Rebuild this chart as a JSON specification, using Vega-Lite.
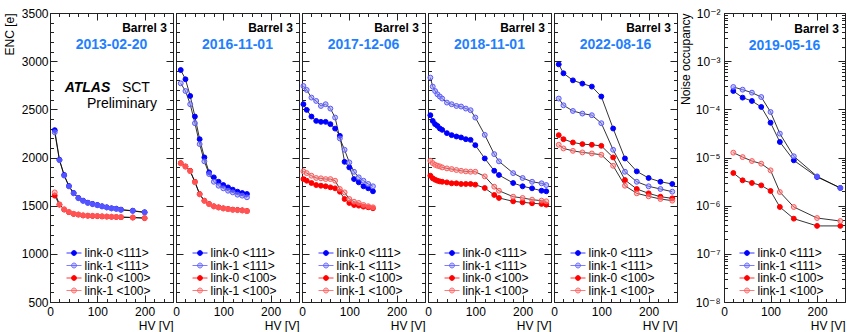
{
"$schema": "https://vega.github.io/schema/vega-lite/v6.json",
"background": "white",
"padding": {"left": 3, "top": 7, "right": 0, "bottom": 0},
"bounds": "flush",
"spacing": 3,
"datasets": {
"p2013": [
{"series":"link-0 <111>","HV":10,"value":2284},{"series":"link-0 <111>","HV":20,"value":1976},{"series":"link-0 <111>","HV":30,"value":1818},{"series":"link-0 <111>","HV":40,"value":1704},{"series":"link-0 <111>","HV":50,"value":1631},{"series":"link-0 <111>","HV":60,"value":1580},{"series":"link-0 <111>","HV":70,"value":1552},{"series":"link-0 <111>","HV":80,"value":1531},{"series":"link-0 <111>","HV":90,"value":1518},{"series":"link-0 <111>","HV":100,"value":1507},{"series":"link-0 <111>","HV":110,"value":1494},{"series":"link-0 <111>","HV":120,"value":1483},{"series":"link-0 <111>","HV":130,"value":1473},{"series":"link-0 <111>","HV":140,"value":1469},{"series":"link-0 <111>","HV":150,"value":1459},{"series":"link-0 <111>","HV":175,"value":1448},{"series":"link-0 <111>","HV":200,"value":1432},
{"series":"link-1 <111>","HV":10,"value":2262},{"series":"link-1 <111>","HV":20,"value":1972},{"series":"link-1 <111>","HV":30,"value":1812},{"series":"link-1 <111>","HV":40,"value":1700},{"series":"link-1 <111>","HV":50,"value":1628},{"series":"link-1 <111>","HV":60,"value":1577},{"series":"link-1 <111>","HV":70,"value":1549},{"series":"link-1 <111>","HV":80,"value":1528},{"series":"link-1 <111>","HV":90,"value":1515},{"series":"link-1 <111>","HV":100,"value":1504},{"series":"link-1 <111>","HV":110,"value":1491},{"series":"link-1 <111>","HV":120,"value":1481},{"series":"link-1 <111>","HV":130,"value":1471},{"series":"link-1 <111>","HV":140,"value":1466},{"series":"link-1 <111>","HV":150,"value":1456},{"series":"link-1 <111>","HV":175,"value":1445},{"series":"link-1 <111>","HV":200,"value":1429},
{"series":"link-0 <100>","HV":10,"value":1604},{"series":"link-0 <100>","HV":20,"value":1510},{"series":"link-0 <100>","HV":30,"value":1459},{"series":"link-0 <100>","HV":40,"value":1432},{"series":"link-0 <100>","HV":50,"value":1414},{"series":"link-0 <100>","HV":60,"value":1407},{"series":"link-0 <100>","HV":70,"value":1398},{"series":"link-0 <100>","HV":80,"value":1395},{"series":"link-0 <100>","HV":90,"value":1393},{"series":"link-0 <100>","HV":100,"value":1391},{"series":"link-0 <100>","HV":110,"value":1388},{"series":"link-0 <100>","HV":120,"value":1386},{"series":"link-0 <100>","HV":130,"value":1384},{"series":"link-0 <100>","HV":140,"value":1382},{"series":"link-0 <100>","HV":150,"value":1380},{"series":"link-0 <100>","HV":175,"value":1376},{"series":"link-0 <100>","HV":200,"value":1370},
{"series":"link-1 <100>","HV":10,"value":1638},{"series":"link-1 <100>","HV":20,"value":1514},{"series":"link-1 <100>","HV":30,"value":1463},{"series":"link-1 <100>","HV":40,"value":1435},{"series":"link-1 <100>","HV":50,"value":1416},{"series":"link-1 <100>","HV":60,"value":1409},{"series":"link-1 <100>","HV":70,"value":1400},{"series":"link-1 <100>","HV":80,"value":1397},{"series":"link-1 <100>","HV":90,"value":1395},{"series":"link-1 <100>","HV":100,"value":1393},{"series":"link-1 <100>","HV":110,"value":1390},{"series":"link-1 <100>","HV":120,"value":1388},{"series":"link-1 <100>","HV":130,"value":1386},{"series":"link-1 <100>","HV":140,"value":1384},{"series":"link-1 <100>","HV":150,"value":1382},{"series":"link-1 <100>","HV":175,"value":1378},{"series":"link-1 <100>","HV":200,"value":1372}
],
"p2016": [
{"series":"link-0 <111>","HV":10,"value":2908},{"series":"link-0 <111>","HV":20,"value":2812},{"series":"link-0 <111>","HV":30,"value":2639},{"series":"link-0 <111>","HV":40,"value":2425},{"series":"link-0 <111>","HV":50,"value":2190},{"series":"link-0 <111>","HV":60,"value":2001},{"series":"link-0 <111>","HV":70,"value":1846},{"series":"link-0 <111>","HV":80,"value":1794},{"series":"link-0 <111>","HV":90,"value":1748},{"series":"link-0 <111>","HV":100,"value":1714},{"series":"link-0 <111>","HV":110,"value":1690},{"series":"link-0 <111>","HV":120,"value":1666},{"series":"link-0 <111>","HV":130,"value":1645},{"series":"link-0 <111>","HV":140,"value":1631},{"series":"link-0 <111>","HV":150,"value":1621},
{"series":"link-1 <111>","HV":10,"value":2770},{"series":"link-1 <111>","HV":20,"value":2690},{"series":"link-1 <111>","HV":30,"value":2553},{"series":"link-1 <111>","HV":40,"value":2356},{"series":"link-1 <111>","HV":50,"value":2139},{"series":"link-1 <111>","HV":60,"value":1960},{"series":"link-1 <111>","HV":70,"value":1828},{"series":"link-1 <111>","HV":80,"value":1748},{"series":"link-1 <111>","HV":90,"value":1707},{"series":"link-1 <111>","HV":100,"value":1680},{"series":"link-1 <111>","HV":110,"value":1655},{"series":"link-1 <111>","HV":120,"value":1638},{"series":"link-1 <111>","HV":130,"value":1614},{"series":"link-1 <111>","HV":140,"value":1604},{"series":"link-1 <111>","HV":150,"value":1587},
{"series":"link-0 <100>","HV":10,"value":1942},{"series":"link-0 <100>","HV":20,"value":1908},{"series":"link-0 <100>","HV":30,"value":1862},{"series":"link-0 <100>","HV":40,"value":1748},{"series":"link-0 <100>","HV":50,"value":1621},{"series":"link-0 <100>","HV":60,"value":1552},{"series":"link-0 <100>","HV":70,"value":1518},{"series":"link-0 <100>","HV":80,"value":1494},{"series":"link-0 <100>","HV":90,"value":1483},{"series":"link-0 <100>","HV":100,"value":1473},{"series":"link-0 <100>","HV":110,"value":1466},{"series":"link-0 <100>","HV":120,"value":1459},{"series":"link-0 <100>","HV":130,"value":1456},{"series":"link-0 <100>","HV":140,"value":1452},{"series":"link-0 <100>","HV":150,"value":1445},
{"series":"link-1 <100>","HV":10,"value":1938},{"series":"link-1 <100>","HV":20,"value":1904},{"series":"link-1 <100>","HV":30,"value":1857},{"series":"link-1 <100>","HV":40,"value":1743},{"series":"link-1 <100>","HV":50,"value":1617},{"series":"link-1 <100>","HV":60,"value":1549},{"series":"link-1 <100>","HV":70,"value":1515},{"series":"link-1 <100>","HV":80,"value":1491},{"series":"link-1 <100>","HV":90,"value":1480},{"series":"link-1 <100>","HV":100,"value":1470},{"series":"link-1 <100>","HV":110,"value":1463},{"series":"link-1 <100>","HV":120,"value":1456},{"series":"link-1 <100>","HV":130,"value":1453},{"series":"link-1 <100>","HV":140,"value":1449},{"series":"link-1 <100>","HV":150,"value":1442}
],
"p2017": [
{"series":"link-0 <111>","HV":3,"value":2553},{"series":"link-0 <111>","HV":10,"value":2494},{"series":"link-0 <111>","HV":20,"value":2425},{"series":"link-0 <111>","HV":30,"value":2380},{"series":"link-0 <111>","HV":40,"value":2370},{"series":"link-0 <111>","HV":50,"value":2370},{"series":"link-0 <111>","HV":60,"value":2346},{"series":"link-0 <111>","HV":70,"value":2300},{"series":"link-0 <111>","HV":80,"value":2225},{"series":"link-0 <111>","HV":90,"value":1955},{"series":"link-0 <111>","HV":100,"value":1897},{"series":"link-0 <111>","HV":110,"value":1776},{"series":"link-0 <111>","HV":120,"value":1742},{"series":"link-0 <111>","HV":130,"value":1701},{"series":"link-0 <111>","HV":140,"value":1680},{"series":"link-0 <111>","HV":150,"value":1649},
{"series":"link-1 <111>","HV":3,"value":2742},{"series":"link-1 <111>","HV":10,"value":2701},{"series":"link-1 <111>","HV":20,"value":2622},{"series":"link-1 <111>","HV":30,"value":2587},{"series":"link-1 <111>","HV":40,"value":2535},{"series":"link-1 <111>","HV":50,"value":2553},{"series":"link-1 <111>","HV":60,"value":2508},{"series":"link-1 <111>","HV":70,"value":2415},{"series":"link-1 <111>","HV":80,"value":2198},{"series":"link-1 <111>","HV":90,"value":2080},{"series":"link-1 <111>","HV":100,"value":1949},{"series":"link-1 <111>","HV":110,"value":1852},{"series":"link-1 <111>","HV":120,"value":1794},{"series":"link-1 <111>","HV":130,"value":1759},{"series":"link-1 <111>","HV":140,"value":1725},{"series":"link-1 <111>","HV":150,"value":1701},
{"series":"link-0 <100>","HV":3,"value":1776},{"series":"link-0 <100>","HV":10,"value":1759},{"series":"link-0 <100>","HV":20,"value":1735},{"series":"link-0 <100>","HV":30,"value":1714},{"series":"link-0 <100>","HV":40,"value":1707},{"series":"link-0 <100>","HV":50,"value":1701},{"series":"link-0 <100>","HV":60,"value":1690},{"series":"link-0 <100>","HV":70,"value":1680},{"series":"link-0 <100>","HV":80,"value":1645},{"series":"link-0 <100>","HV":90,"value":1569},{"series":"link-0 <100>","HV":100,"value":1528},{"series":"link-0 <100>","HV":110,"value":1507},{"series":"link-0 <100>","HV":120,"value":1500},{"series":"link-0 <100>","HV":130,"value":1490},{"series":"link-0 <100>","HV":140,"value":1483},{"series":"link-0 <100>","HV":150,"value":1473},
{"series":"link-1 <100>","HV":3,"value":1856},{"series":"link-1 <100>","HV":10,"value":1838},{"series":"link-1 <100>","HV":20,"value":1811},{"series":"link-1 <100>","HV":30,"value":1787},{"series":"link-1 <100>","HV":40,"value":1784},{"series":"link-1 <100>","HV":50,"value":1776},{"series":"link-1 <100>","HV":60,"value":1776},{"series":"link-1 <100>","HV":70,"value":1759},{"series":"link-1 <100>","HV":80,"value":1673},{"series":"link-1 <100>","HV":90,"value":1638},{"series":"link-1 <100>","HV":100,"value":1569},{"series":"link-1 <100>","HV":110,"value":1541},{"series":"link-1 <100>","HV":120,"value":1528},{"series":"link-1 <100>","HV":130,"value":1507},{"series":"link-1 <100>","HV":140,"value":1494},{"series":"link-1 <100>","HV":150,"value":1483}
],
"p2018": [
{"series":"link-0 <111>","HV":5,"value":2439},{"series":"link-0 <111>","HV":10,"value":2380},{"series":"link-0 <111>","HV":15,"value":2346},{"series":"link-0 <111>","HV":20,"value":2328},{"series":"link-0 <111>","HV":25,"value":2301},{"series":"link-0 <111>","HV":30,"value":2287},{"series":"link-0 <111>","HV":40,"value":2253},{"series":"link-0 <111>","HV":50,"value":2232},{"series":"link-0 <111>","HV":60,"value":2218},{"series":"link-0 <111>","HV":70,"value":2208},{"series":"link-0 <111>","HV":80,"value":2190},{"series":"link-0 <111>","HV":90,"value":2183},{"series":"link-0 <111>","HV":100,"value":2128},{"series":"link-0 <111>","HV":120,"value":1990},{"series":"link-0 <111>","HV":140,"value":1862},{"series":"link-0 <111>","HV":150,"value":1818},{"series":"link-0 <111>","HV":180,"value":1735},{"series":"link-0 <111>","HV":200,"value":1701},{"series":"link-0 <111>","HV":220,"value":1680},{"series":"link-0 <111>","HV":240,"value":1655},{"series":"link-0 <111>","HV":250,"value":1649},
{"series":"link-1 <111>","HV":5,"value":2829},{"series":"link-1 <111>","HV":10,"value":2736},{"series":"link-1 <111>","HV":15,"value":2690},{"series":"link-1 <111>","HV":20,"value":2656},{"series":"link-1 <111>","HV":25,"value":2633},{"series":"link-1 <111>","HV":30,"value":2612},{"series":"link-1 <111>","HV":40,"value":2570},{"series":"link-1 <111>","HV":50,"value":2553},{"series":"link-1 <111>","HV":60,"value":2535},{"series":"link-1 <111>","HV":70,"value":2529},{"series":"link-1 <111>","HV":80,"value":2508},{"series":"link-1 <111>","HV":90,"value":2491},{"series":"link-1 <111>","HV":100,"value":2415},{"series":"link-1 <111>","HV":120,"value":2235},{"series":"link-1 <111>","HV":140,"value":2035},{"series":"link-1 <111>","HV":150,"value":1960},{"series":"link-1 <111>","HV":180,"value":1838},{"series":"link-1 <111>","HV":200,"value":1787},{"series":"link-1 <111>","HV":220,"value":1748},{"series":"link-1 <111>","HV":240,"value":1732},{"series":"link-1 <111>","HV":250,"value":1714},
{"series":"link-0 <100>","HV":5,"value":1811},{"series":"link-0 <100>","HV":10,"value":1784},{"series":"link-0 <100>","HV":15,"value":1769},{"series":"link-0 <100>","HV":20,"value":1759},{"series":"link-0 <100>","HV":25,"value":1752},{"series":"link-0 <100>","HV":30,"value":1748},{"series":"link-0 <100>","HV":40,"value":1742},{"series":"link-0 <100>","HV":50,"value":1732},{"series":"link-0 <100>","HV":60,"value":1732},{"series":"link-0 <100>","HV":70,"value":1725},{"series":"link-0 <100>","HV":80,"value":1725},{"series":"link-0 <100>","HV":90,"value":1725},{"series":"link-0 <100>","HV":100,"value":1718},{"series":"link-0 <100>","HV":120,"value":1683},{"series":"link-0 <100>","HV":140,"value":1611},{"series":"link-0 <100>","HV":150,"value":1580},{"series":"link-0 <100>","HV":180,"value":1545},{"series":"link-0 <100>","HV":200,"value":1535},{"series":"link-0 <100>","HV":220,"value":1525},{"series":"link-0 <100>","HV":240,"value":1518},{"series":"link-0 <100>","HV":250,"value":1510},
{"series":"link-1 <100>","HV":5,"value":1966},{"series":"link-1 <100>","HV":10,"value":1942},{"series":"link-1 <100>","HV":15,"value":1924},{"series":"link-1 <100>","HV":20,"value":1914},{"series":"link-1 <100>","HV":25,"value":1908},{"series":"link-1 <100>","HV":30,"value":1897},{"series":"link-1 <100>","HV":40,"value":1887},{"series":"link-1 <100>","HV":50,"value":1880},{"series":"link-1 <100>","HV":60,"value":1870},{"series":"link-1 <100>","HV":70,"value":1862},{"series":"link-1 <100>","HV":80,"value":1856},{"series":"link-1 <100>","HV":90,"value":1852},{"series":"link-1 <100>","HV":100,"value":1852},{"series":"link-1 <100>","HV":120,"value":1804},{"series":"link-1 <100>","HV":140,"value":1697},{"series":"link-1 <100>","HV":150,"value":1655},{"series":"link-1 <100>","HV":180,"value":1593},{"series":"link-1 <100>","HV":200,"value":1580},{"series":"link-1 <100>","HV":220,"value":1562},{"series":"link-1 <100>","HV":240,"value":1552},{"series":"link-1 <100>","HV":250,"value":1545}
],
"p2022": [
{"series":"link-0 <111>","HV":10,"value":2967},{"series":"link-0 <111>","HV":20,"value":2874},{"series":"link-0 <111>","HV":40,"value":2801},{"series":"link-0 <111>","HV":60,"value":2767},{"series":"link-0 <111>","HV":80,"value":2736},{"series":"link-0 <111>","HV":100,"value":2633},{"series":"link-0 <111>","HV":125,"value":2301},{"series":"link-0 <111>","HV":150,"value":1990},{"series":"link-0 <111>","HV":175,"value":1856},{"series":"link-0 <111>","HV":200,"value":1787},{"series":"link-0 <111>","HV":225,"value":1748},{"series":"link-0 <111>","HV":250,"value":1725},
{"series":"link-1 <111>","HV":10,"value":2612},{"series":"link-1 <111>","HV":20,"value":2542},{"series":"link-1 <111>","HV":40,"value":2483},{"series":"link-1 <111>","HV":60,"value":2456},{"series":"link-1 <111>","HV":80,"value":2439},{"series":"link-1 <111>","HV":100,"value":2356},{"series":"link-1 <111>","HV":125,"value":2080},{"series":"link-1 <111>","HV":150,"value":1852},{"series":"link-1 <111>","HV":175,"value":1748},{"series":"link-1 <111>","HV":200,"value":1701},{"series":"link-1 <111>","HV":225,"value":1673},{"series":"link-1 <111>","HV":250,"value":1645},
{"series":"link-0 <100>","HV":10,"value":2232},{"series":"link-0 <100>","HV":20,"value":2190},{"series":"link-0 <100>","HV":40,"value":2156},{"series":"link-0 <100>","HV":60,"value":2139},{"series":"link-0 <100>","HV":80,"value":2132},{"series":"link-0 <100>","HV":100,"value":2121},{"series":"link-0 <100>","HV":125,"value":2001},{"series":"link-0 <100>","HV":150,"value":1766},{"series":"link-0 <100>","HV":175,"value":1673},{"series":"link-0 <100>","HV":200,"value":1628},{"series":"link-0 <100>","HV":225,"value":1593},{"series":"link-0 <100>","HV":250,"value":1576},
{"series":"link-1 <100>","HV":10,"value":2132},{"series":"link-1 <100>","HV":20,"value":2094},{"series":"link-1 <100>","HV":40,"value":2069},{"series":"link-1 <100>","HV":60,"value":2053},{"series":"link-1 <100>","HV":80,"value":2042},{"series":"link-1 <100>","HV":100,"value":2028},{"series":"link-1 <100>","HV":125,"value":1914},{"series":"link-1 <100>","HV":150,"value":1707},{"series":"link-1 <100>","HV":175,"value":1628},{"series":"link-1 <100>","HV":200,"value":1597},{"series":"link-1 <100>","HV":225,"value":1569},{"series":"link-1 <100>","HV":250,"value":1552}
],
"p2019": [
{"series":"link-0 <111>","HV":20,"value":2.40e-4},{"series":"link-0 <111>","HV":40,"value":1.75e-4},{"series":"link-0 <111>","HV":60,"value":1.49e-4},{"series":"link-0 <111>","HV":80,"value":1.12e-4},{"series":"link-0 <111>","HV":100,"value":5.28e-5},{"series":"link-0 <111>","HV":120,"value":2.10e-5},{"series":"link-0 <111>","HV":150,"value":8.73e-6},{"series":"link-0 <111>","HV":200,"value":3.94e-6},{"series":"link-0 <111>","HV":250,"value":2.33e-6},
{"series":"link-1 <111>","HV":20,"value":2.91e-4},{"series":"link-1 <111>","HV":40,"value":2.56e-4},{"series":"link-1 <111>","HV":60,"value":2.22e-4},{"series":"link-1 <111>","HV":80,"value":1.80e-4},{"series":"link-1 <111>","HV":100,"value":8.81e-5},{"series":"link-1 <111>","HV":120,"value":3.13e-5},{"series":"link-1 <111>","HV":150,"value":1.06e-5},{"series":"link-1 <111>","HV":200,"value":4.06e-6},{"series":"link-1 <111>","HV":250,"value":2.33e-6},
{"series":"link-0 <100>","HV":20,"value":4.76e-6},{"series":"link-0 <100>","HV":40,"value":3.36e-6},{"series":"link-0 <100>","HV":60,"value":2.96e-6},{"series":"link-0 <100>","HV":80,"value":2.64e-6},{"series":"link-0 <100>","HV":100,"value":2.02e-6},{"series":"link-0 <100>","HV":120,"value":9.38e-7},{"series":"link-0 <100>","HV":150,"value":5.37e-7},{"series":"link-0 <100>","HV":200,"value":3.8e-7},{"series":"link-0 <100>","HV":250,"value":3.8e-7},
{"series":"link-1 <100>","HV":20,"value":1.26e-5},{"series":"link-1 <100>","HV":40,"value":1.02e-5},{"series":"link-1 <100>","HV":60,"value":8.45e-6},{"series":"link-1 <100>","HV":80,"value":7.44e-6},{"series":"link-1 <100>","HV":100,"value":5.42e-6},{"series":"link-1 <100>","HV":120,"value":1.92e-6},{"series":"link-1 <100>","HV":150,"value":9.38e-7},{"series":"link-1 <100>","HV":200,"value":5.54e-7},{"series":"link-1 <100>","HV":250,"value":4.80e-7}
]
},
"resolve": {"scale": {"x": "independent", "y": "independent", "fill": "independent", "stroke": "independent"}, "legend": {"fill": "independent"}},
"hconcat": [
{"width": 123, "height": 289, "data": {"name": "p2013"},
 "resolve": {"axis": {"x": "independent", "y": "independent"}},
 "layer": [
  {"mark": {"type": "line", "color": "#000", "strokeWidth": 0.8},
   "encoding": {
    "x": {"field": "HV", "type": "quantitative", "scale": {"domain": [0, 260], "nice": false, "zero": false}, "axis": {"orient": "bottom", "values": [0, 100, 200], "tickSize": -7, "labelPadding": 11, "title": "HV [V]", "titleAnchor": "end", "titleY": 27.5, "titleBaseline": "alphabetic"}},
    "y": {"field": "value", "type": "quantitative", "scale": {"domain": [500, 3500], "nice": false, "zero": false}, "axis": {"orient": "left", "values": [500, 1000, 1500, 2000, 2500, 3000, 3500], "format": "d", "tickSize": -7, "labelPadding": 9, "title": "ENC [e]", "titleAnchor": "end", "titlePadding": 5}},
    "detail": {"field": "series"}}},
  {"mark": {"type": "point", "filled": true, "size": 24, "strokeWidth": 1, "opacity": 1},
   "encoding": {
    "x": {"field": "HV", "type": "quantitative", "scale": {"domain": [0, 260], "nice": false, "zero": false}, "axis": {"orient": "bottom", "values": [0,20,40,60,80,100,120,140,160,180,200,220,240,260], "tickSize": -3.5, "labels": false, "domain": false, "title": null}},
    "y": {"field": "value", "type": "quantitative", "scale": {"domain": [500, 3500], "nice": false, "zero": false}, "axis": {"orient": "left", "values": [500,600,700,800,900,1000,1100,1200,1300,1400,1500,1600,1700,1800,1900,2000,2100,2200,2300,2400,2500,2600,2700,2800,2900,3000,3100,3200,3300,3400,3500], "tickSize": -3.5, "labels": false, "domain": false, "title": null}},
    "fill": {"field": "series", "type": "nominal", "scale": {"domain": ["link-0 <111>", "link-1 <111>", "link-0 <100>", "link-1 <100>"], "range": ["#0000ff", "rgba(150,150,255,0.55)", "#ff0000", "rgba(255,150,150,0.55)"]}, "legend": {"orient": "none", "legendX": 18, "legendY": 234, "title": null}},
    "stroke": {"field": "series", "type": "nominal", "scale": {"domain": ["link-0 <111>", "link-1 <111>", "link-0 <100>", "link-1 <100>"], "range": ["#0000ff", "#5a5aff", "#ff0000", "#ff5a5a"]}, "legend": null}}},
  {"mark": {"type": "point", "opacity": 0},
   "encoding": {
    "x": {"field": "HV", "type": "quantitative", "scale": {"domain": [0, 260], "nice": false, "zero": false}, "axis": {"orient": "top", "values": [0, 100, 200], "tickSize": -7, "labels": false, "title": null}},
    "y": {"field": "value", "type": "quantitative", "scale": {"domain": [500, 3500], "nice": false, "zero": false}, "axis": {"orient": "right", "values": [500, 1000, 1500, 2000, 2500, 3000, 3500], "tickSize": -7, "labels": false, "title": null}}}},
  {"mark": {"type": "point", "opacity": 0},
   "encoding": {
    "x": {"field": "HV", "type": "quantitative", "scale": {"domain": [0, 260], "nice": false, "zero": false}, "axis": {"orient": "top", "values": [0,20,40,60,80,100,120,140,160,180,200,220,240,260], "tickSize": -3.5, "labels": false, "domain": false, "title": null}},
    "y": {"field": "value", "type": "quantitative", "scale": {"domain": [500, 3500], "nice": false, "zero": false}, "axis": {"orient": "right", "values": [500,600,700,800,900,1000,1100,1200,1300,1400,1500,1600,1700,1800,1900,2000,2100,2200,2300,2400,2500,2600,2700,2800,2900,3000,3100,3200,3300,3400,3500], "tickSize": -3.5, "labels": false, "domain": false, "title": null}}}},
  {"data": {"values": [{}]}, "mark": {"type": "text", "text": "Barrel 3", "align": "right", "baseline": "alphabetic", "fontSize": 12, "fontWeight": "bold", "color": "#000"},
   "encoding": {"x": {"datum": 247, "type": "quantitative", "scale": {"domain": [0, 260], "nice": false, "zero": false}, "axis": null}, "y": {"datum": 3301, "type": "quantitative", "scale": {"domain": [500, 3500], "nice": false, "zero": false}, "axis": null}}},
  {"data": {"values": [{}]}, "mark": {"type": "text", "text": "2013-02-20", "align": "center", "baseline": "alphabetic", "fontSize": 14, "fontWeight": "bold", "color": "#1f7fff"},
   "encoding": {"x": {"datum": 130, "type": "quantitative", "scale": {"domain": [0, 260], "nice": false, "zero": false}, "axis": null}, "y": {"datum": 3122, "type": "quantitative", "scale": {"domain": [500, 3500], "nice": false, "zero": false}, "axis": null}}},
  {"data": {"values": [{}]}, "mark": {"type": "text", "text": "ATLAS", "align": "left", "baseline": "alphabetic", "fontSize": 14, "fontWeight": "bold", "fontStyle": "italic", "color": "#000"},
   "encoding": {"x": {"datum": 31, "type": "quantitative", "scale": {"domain": [0, 260], "nice": false, "zero": false}, "axis": null}, "y": {"datum": 2684, "type": "quantitative", "scale": {"domain": [500, 3500], "nice": false, "zero": false}, "axis": null}}},
  {"data": {"values": [{}]}, "mark": {"type": "text", "text": "SCT", "align": "left", "baseline": "alphabetic", "fontSize": 14, "color": "#000"},
   "encoding": {"x": {"datum": 152, "type": "quantitative", "scale": {"domain": [0, 260], "nice": false, "zero": false}, "axis": null}, "y": {"datum": 2684, "type": "quantitative", "scale": {"domain": [500, 3500], "nice": false, "zero": false}, "axis": null}}},
  {"data": {"values": [{}]}, "mark": {"type": "text", "text": "Preliminary", "align": "right", "baseline": "alphabetic", "fontSize": 14, "color": "#000"},
   "encoding": {"x": {"datum": 226, "type": "quantitative", "scale": {"domain": [0, 260], "nice": false, "zero": false}, "axis": null}, "y": {"datum": 2519, "type": "quantitative", "scale": {"domain": [500, 3500], "nice": false, "zero": false}, "axis": null}}}
 ]},
{"width": 123, "height": 289, "data": {"name": "p2016"},
 "resolve": {"axis": {"x": "independent", "y": "independent"}},
 "layer": [
  {"mark": {"type": "line", "color": "#000", "strokeWidth": 0.8},
   "encoding": {
    "x": {"field": "HV", "type": "quantitative", "scale": {"domain": [0, 260], "nice": false, "zero": false}, "axis": {"orient": "bottom", "values": [0, 100, 200], "tickSize": -7, "labelPadding": 11, "title": "HV [V]", "titleAnchor": "end", "titleY": 27.5, "titleBaseline": "alphabetic"}},
    "y": {"field": "value", "type": "quantitative", "scale": {"domain": [500, 3500], "nice": false, "zero": false}, "axis": {"orient": "left", "values": [500, 1000, 1500, 2000, 2500, 3000, 3500], "tickSize": -7, "labels": false, "title": null}},
    "detail": {"field": "series"}}},
  {"mark": {"type": "point", "filled": true, "size": 24, "strokeWidth": 1, "opacity": 1},
   "encoding": {
    "x": {"field": "HV", "type": "quantitative", "scale": {"domain": [0, 260], "nice": false, "zero": false}, "axis": {"orient": "bottom", "values": [0,20,40,60,80,100,120,140,160,180,200,220,240,260], "tickSize": -3.5, "labels": false, "domain": false, "title": null}},
    "y": {"field": "value", "type": "quantitative", "scale": {"domain": [500, 3500], "nice": false, "zero": false}, "axis": {"orient": "left", "values": [500,600,700,800,900,1000,1100,1200,1300,1400,1500,1600,1700,1800,1900,2000,2100,2200,2300,2400,2500,2600,2700,2800,2900,3000,3100,3200,3300,3400,3500], "tickSize": -3.5, "labels": false, "domain": false, "title": null}},
    "fill": {"field": "series", "type": "nominal", "scale": {"domain": ["link-0 <111>", "link-1 <111>", "link-0 <100>", "link-1 <100>"], "range": ["#0000ff", "rgba(150,150,255,0.55)", "#ff0000", "rgba(255,150,150,0.55)"]}, "legend": {"orient": "none", "legendX": 18, "legendY": 234, "title": null}},
    "stroke": {"field": "series", "type": "nominal", "scale": {"domain": ["link-0 <111>", "link-1 <111>", "link-0 <100>", "link-1 <100>"], "range": ["#0000ff", "#5a5aff", "#ff0000", "#ff5a5a"]}, "legend": null}}},
  {"mark": {"type": "point", "opacity": 0},
   "encoding": {
    "x": {"field": "HV", "type": "quantitative", "scale": {"domain": [0, 260], "nice": false, "zero": false}, "axis": {"orient": "top", "values": [0, 100, 200], "tickSize": -7, "labels": false, "title": null}},
    "y": {"field": "value", "type": "quantitative", "scale": {"domain": [500, 3500], "nice": false, "zero": false}, "axis": {"orient": "right", "values": [500, 1000, 1500, 2000, 2500, 3000, 3500], "tickSize": -7, "labels": false, "title": null}}}},
  {"mark": {"type": "point", "opacity": 0},
   "encoding": {
    "x": {"field": "HV", "type": "quantitative", "scale": {"domain": [0, 260], "nice": false, "zero": false}, "axis": {"orient": "top", "values": [0,20,40,60,80,100,120,140,160,180,200,220,240,260], "tickSize": -3.5, "labels": false, "domain": false, "title": null}},
    "y": {"field": "value", "type": "quantitative", "scale": {"domain": [500, 3500], "nice": false, "zero": false}, "axis": {"orient": "right", "values": [500,600,700,800,900,1000,1100,1200,1300,1400,1500,1600,1700,1800,1900,2000,2100,2200,2300,2400,2500,2600,2700,2800,2900,3000,3100,3200,3300,3400,3500], "tickSize": -3.5, "labels": false, "domain": false, "title": null}}}},
  {"data": {"values": [{}]}, "mark": {"type": "text", "text": "Barrel 3", "align": "right", "baseline": "alphabetic", "fontSize": 12, "fontWeight": "bold", "color": "#000"},
   "encoding": {"x": {"datum": 247, "type": "quantitative", "scale": {"domain": [0, 260], "nice": false, "zero": false}, "axis": null}, "y": {"datum": 3301, "type": "quantitative", "scale": {"domain": [500, 3500], "nice": false, "zero": false}, "axis": null}}},
  {"data": {"values": [{}]}, "mark": {"type": "text", "text": "2016-11-01", "align": "center", "baseline": "alphabetic", "fontSize": 14, "fontWeight": "bold", "color": "#1f7fff"},
   "encoding": {"x": {"datum": 130, "type": "quantitative", "scale": {"domain": [0, 260], "nice": false, "zero": false}, "axis": null}, "y": {"datum": 3122, "type": "quantitative", "scale": {"domain": [500, 3500], "nice": false, "zero": false}, "axis": null}}}
 ]},
{"width": 123, "height": 289, "data": {"name": "p2017"},
 "resolve": {"axis": {"x": "independent", "y": "independent"}},
 "layer": [
  {"mark": {"type": "line", "color": "#000", "strokeWidth": 0.8},
   "encoding": {
    "x": {"field": "HV", "type": "quantitative", "scale": {"domain": [0, 260], "nice": false, "zero": false}, "axis": {"orient": "bottom", "values": [0, 100, 200], "tickSize": -7, "labelPadding": 11, "title": "HV [V]", "titleAnchor": "end", "titleY": 27.5, "titleBaseline": "alphabetic"}},
    "y": {"field": "value", "type": "quantitative", "scale": {"domain": [500, 3500], "nice": false, "zero": false}, "axis": {"orient": "left", "values": [500, 1000, 1500, 2000, 2500, 3000, 3500], "tickSize": -7, "labels": false, "title": null}},
    "detail": {"field": "series"}}},
  {"mark": {"type": "point", "filled": true, "size": 24, "strokeWidth": 1, "opacity": 1},
   "encoding": {
    "x": {"field": "HV", "type": "quantitative", "scale": {"domain": [0, 260], "nice": false, "zero": false}, "axis": {"orient": "bottom", "values": [0,20,40,60,80,100,120,140,160,180,200,220,240,260], "tickSize": -3.5, "labels": false, "domain": false, "title": null}},
    "y": {"field": "value", "type": "quantitative", "scale": {"domain": [500, 3500], "nice": false, "zero": false}, "axis": {"orient": "left", "values": [500,600,700,800,900,1000,1100,1200,1300,1400,1500,1600,1700,1800,1900,2000,2100,2200,2300,2400,2500,2600,2700,2800,2900,3000,3100,3200,3300,3400,3500], "tickSize": -3.5, "labels": false, "domain": false, "title": null}},
    "fill": {"field": "series", "type": "nominal", "scale": {"domain": ["link-0 <111>", "link-1 <111>", "link-0 <100>", "link-1 <100>"], "range": ["#0000ff", "rgba(150,150,255,0.55)", "#ff0000", "rgba(255,150,150,0.55)"]}, "legend": {"orient": "none", "legendX": 18, "legendY": 234, "title": null}},
    "stroke": {"field": "series", "type": "nominal", "scale": {"domain": ["link-0 <111>", "link-1 <111>", "link-0 <100>", "link-1 <100>"], "range": ["#0000ff", "#5a5aff", "#ff0000", "#ff5a5a"]}, "legend": null}}},
  {"mark": {"type": "point", "opacity": 0},
   "encoding": {
    "x": {"field": "HV", "type": "quantitative", "scale": {"domain": [0, 260], "nice": false, "zero": false}, "axis": {"orient": "top", "values": [0, 100, 200], "tickSize": -7, "labels": false, "title": null}},
    "y": {"field": "value", "type": "quantitative", "scale": {"domain": [500, 3500], "nice": false, "zero": false}, "axis": {"orient": "right", "values": [500, 1000, 1500, 2000, 2500, 3000, 3500], "tickSize": -7, "labels": false, "title": null}}}},
  {"mark": {"type": "point", "opacity": 0},
   "encoding": {
    "x": {"field": "HV", "type": "quantitative", "scale": {"domain": [0, 260], "nice": false, "zero": false}, "axis": {"orient": "top", "values": [0,20,40,60,80,100,120,140,160,180,200,220,240,260], "tickSize": -3.5, "labels": false, "domain": false, "title": null}},
    "y": {"field": "value", "type": "quantitative", "scale": {"domain": [500, 3500], "nice": false, "zero": false}, "axis": {"orient": "right", "values": [500,600,700,800,900,1000,1100,1200,1300,1400,1500,1600,1700,1800,1900,2000,2100,2200,2300,2400,2500,2600,2700,2800,2900,3000,3100,3200,3300,3400,3500], "tickSize": -3.5, "labels": false, "domain": false, "title": null}}}},
  {"data": {"values": [{}]}, "mark": {"type": "text", "text": "Barrel 3", "align": "right", "baseline": "alphabetic", "fontSize": 12, "fontWeight": "bold", "color": "#000"},
   "encoding": {"x": {"datum": 247, "type": "quantitative", "scale": {"domain": [0, 260], "nice": false, "zero": false}, "axis": null}, "y": {"datum": 3301, "type": "quantitative", "scale": {"domain": [500, 3500], "nice": false, "zero": false}, "axis": null}}},
  {"data": {"values": [{}]}, "mark": {"type": "text", "text": "2017-12-06", "align": "center", "baseline": "alphabetic", "fontSize": 14, "fontWeight": "bold", "color": "#1f7fff"},
   "encoding": {"x": {"datum": 130, "type": "quantitative", "scale": {"domain": [0, 260], "nice": false, "zero": false}, "axis": null}, "y": {"datum": 3122, "type": "quantitative", "scale": {"domain": [500, 3500], "nice": false, "zero": false}, "axis": null}}}
 ]},
{"width": 123, "height": 289, "data": {"name": "p2018"},
 "resolve": {"axis": {"x": "independent", "y": "independent"}},
 "layer": [
  {"mark": {"type": "line", "color": "#000", "strokeWidth": 0.8},
   "encoding": {
    "x": {"field": "HV", "type": "quantitative", "scale": {"domain": [0, 260], "nice": false, "zero": false}, "axis": {"orient": "bottom", "values": [0, 100, 200], "tickSize": -7, "labelPadding": 11, "title": "HV [V]", "titleAnchor": "end", "titleY": 27.5, "titleBaseline": "alphabetic"}},
    "y": {"field": "value", "type": "quantitative", "scale": {"domain": [500, 3500], "nice": false, "zero": false}, "axis": {"orient": "left", "values": [500, 1000, 1500, 2000, 2500, 3000, 3500], "tickSize": -7, "labels": false, "title": null}},
    "detail": {"field": "series"}}},
  {"mark": {"type": "point", "filled": true, "size": 24, "strokeWidth": 1, "opacity": 1},
   "encoding": {
    "x": {"field": "HV", "type": "quantitative", "scale": {"domain": [0, 260], "nice": false, "zero": false}, "axis": {"orient": "bottom", "values": [0,20,40,60,80,100,120,140,160,180,200,220,240,260], "tickSize": -3.5, "labels": false, "domain": false, "title": null}},
    "y": {"field": "value", "type": "quantitative", "scale": {"domain": [500, 3500], "nice": false, "zero": false}, "axis": {"orient": "left", "values": [500,600,700,800,900,1000,1100,1200,1300,1400,1500,1600,1700,1800,1900,2000,2100,2200,2300,2400,2500,2600,2700,2800,2900,3000,3100,3200,3300,3400,3500], "tickSize": -3.5, "labels": false, "domain": false, "title": null}},
    "fill": {"field": "series", "type": "nominal", "scale": {"domain": ["link-0 <111>", "link-1 <111>", "link-0 <100>", "link-1 <100>"], "range": ["#0000ff", "rgba(150,150,255,0.55)", "#ff0000", "rgba(255,150,150,0.55)"]}, "legend": {"orient": "none", "legendX": 18, "legendY": 234, "title": null}},
    "stroke": {"field": "series", "type": "nominal", "scale": {"domain": ["link-0 <111>", "link-1 <111>", "link-0 <100>", "link-1 <100>"], "range": ["#0000ff", "#5a5aff", "#ff0000", "#ff5a5a"]}, "legend": null}}},
  {"mark": {"type": "point", "opacity": 0},
   "encoding": {
    "x": {"field": "HV", "type": "quantitative", "scale": {"domain": [0, 260], "nice": false, "zero": false}, "axis": {"orient": "top", "values": [0, 100, 200], "tickSize": -7, "labels": false, "title": null}},
    "y": {"field": "value", "type": "quantitative", "scale": {"domain": [500, 3500], "nice": false, "zero": false}, "axis": {"orient": "right", "values": [500, 1000, 1500, 2000, 2500, 3000, 3500], "tickSize": -7, "labels": false, "title": null}}}},
  {"mark": {"type": "point", "opacity": 0},
   "encoding": {
    "x": {"field": "HV", "type": "quantitative", "scale": {"domain": [0, 260], "nice": false, "zero": false}, "axis": {"orient": "top", "values": [0,20,40,60,80,100,120,140,160,180,200,220,240,260], "tickSize": -3.5, "labels": false, "domain": false, "title": null}},
    "y": {"field": "value", "type": "quantitative", "scale": {"domain": [500, 3500], "nice": false, "zero": false}, "axis": {"orient": "right", "values": [500,600,700,800,900,1000,1100,1200,1300,1400,1500,1600,1700,1800,1900,2000,2100,2200,2300,2400,2500,2600,2700,2800,2900,3000,3100,3200,3300,3400,3500], "tickSize": -3.5, "labels": false, "domain": false, "title": null}}}},
  {"data": {"values": [{}]}, "mark": {"type": "text", "text": "Barrel 3", "align": "right", "baseline": "alphabetic", "fontSize": 12, "fontWeight": "bold", "color": "#000"},
   "encoding": {"x": {"datum": 247, "type": "quantitative", "scale": {"domain": [0, 260], "nice": false, "zero": false}, "axis": null}, "y": {"datum": 3301, "type": "quantitative", "scale": {"domain": [500, 3500], "nice": false, "zero": false}, "axis": null}}},
  {"data": {"values": [{}]}, "mark": {"type": "text", "text": "2018-11-01", "align": "center", "baseline": "alphabetic", "fontSize": 14, "fontWeight": "bold", "color": "#1f7fff"},
   "encoding": {"x": {"datum": 130, "type": "quantitative", "scale": {"domain": [0, 260], "nice": false, "zero": false}, "axis": null}, "y": {"datum": 3122, "type": "quantitative", "scale": {"domain": [500, 3500], "nice": false, "zero": false}, "axis": null}}}
 ]},
{"width": 123, "height": 289, "data": {"name": "p2022"},
 "resolve": {"axis": {"x": "independent", "y": "independent"}},
 "layer": [
  {"mark": {"type": "line", "color": "#000", "strokeWidth": 0.8},
   "encoding": {
    "x": {"field": "HV", "type": "quantitative", "scale": {"domain": [0, 260], "nice": false, "zero": false}, "axis": {"orient": "bottom", "values": [0, 100, 200], "tickSize": -7, "labelPadding": 11, "title": "HV [V]", "titleAnchor": "end", "titleY": 27.5, "titleBaseline": "alphabetic"}},
    "y": {"field": "value", "type": "quantitative", "scale": {"domain": [500, 3500], "nice": false, "zero": false}, "axis": {"orient": "left", "values": [500, 1000, 1500, 2000, 2500, 3000, 3500], "tickSize": -7, "labels": false, "title": null}},
    "detail": {"field": "series"}}},
  {"mark": {"type": "point", "filled": true, "size": 24, "strokeWidth": 1, "opacity": 1},
   "encoding": {
    "x": {"field": "HV", "type": "quantitative", "scale": {"domain": [0, 260], "nice": false, "zero": false}, "axis": {"orient": "bottom", "values": [0,20,40,60,80,100,120,140,160,180,200,220,240,260], "tickSize": -3.5, "labels": false, "domain": false, "title": null}},
    "y": {"field": "value", "type": "quantitative", "scale": {"domain": [500, 3500], "nice": false, "zero": false}, "axis": {"orient": "left", "values": [500,600,700,800,900,1000,1100,1200,1300,1400,1500,1600,1700,1800,1900,2000,2100,2200,2300,2400,2500,2600,2700,2800,2900,3000,3100,3200,3300,3400,3500], "tickSize": -3.5, "labels": false, "domain": false, "title": null}},
    "fill": {"field": "series", "type": "nominal", "scale": {"domain": ["link-0 <111>", "link-1 <111>", "link-0 <100>", "link-1 <100>"], "range": ["#0000ff", "rgba(150,150,255,0.55)", "#ff0000", "rgba(255,150,150,0.55)"]}, "legend": {"orient": "none", "legendX": 18, "legendY": 234, "title": null}},
    "stroke": {"field": "series", "type": "nominal", "scale": {"domain": ["link-0 <111>", "link-1 <111>", "link-0 <100>", "link-1 <100>"], "range": ["#0000ff", "#5a5aff", "#ff0000", "#ff5a5a"]}, "legend": null}}},
  {"mark": {"type": "point", "opacity": 0},
   "encoding": {
    "x": {"field": "HV", "type": "quantitative", "scale": {"domain": [0, 260], "nice": false, "zero": false}, "axis": {"orient": "top", "values": [0, 100, 200], "tickSize": -7, "labels": false, "title": null}},
    "y": {"field": "value", "type": "quantitative", "scale": {"domain": [500, 3500], "nice": false, "zero": false}, "axis": {"orient": "right", "values": [500, 1000, 1500, 2000, 2500, 3000, 3500], "tickSize": -7, "labels": false, "title": null}}}},
  {"mark": {"type": "point", "opacity": 0},
   "encoding": {
    "x": {"field": "HV", "type": "quantitative", "scale": {"domain": [0, 260], "nice": false, "zero": false}, "axis": {"orient": "top", "values": [0,20,40,60,80,100,120,140,160,180,200,220,240,260], "tickSize": -3.5, "labels": false, "domain": false, "title": null}},
    "y": {"field": "value", "type": "quantitative", "scale": {"domain": [500, 3500], "nice": false, "zero": false}, "axis": {"orient": "right", "values": [500,600,700,800,900,1000,1100,1200,1300,1400,1500,1600,1700,1800,1900,2000,2100,2200,2300,2400,2500,2600,2700,2800,2900,3000,3100,3200,3300,3400,3500], "tickSize": -3.5, "labels": false, "domain": false, "title": null}}}},
  {"data": {"values": [{}]}, "mark": {"type": "text", "text": "Barrel 3", "align": "right", "baseline": "alphabetic", "fontSize": 12, "fontWeight": "bold", "color": "#000"},
   "encoding": {"x": {"datum": 247, "type": "quantitative", "scale": {"domain": [0, 260], "nice": false, "zero": false}, "axis": null}, "y": {"datum": 3301, "type": "quantitative", "scale": {"domain": [500, 3500], "nice": false, "zero": false}, "axis": null}}},
  {"data": {"values": [{}]}, "mark": {"type": "text", "text": "2022-08-16", "align": "center", "baseline": "alphabetic", "fontSize": 14, "fontWeight": "bold", "color": "#1f7fff"},
   "encoding": {"x": {"datum": 130, "type": "quantitative", "scale": {"domain": [0, 260], "nice": false, "zero": false}, "axis": null}, "y": {"datum": 3122, "type": "quantitative", "scale": {"domain": [500, 3500], "nice": false, "zero": false}, "axis": null}}}
 ]},
{"width": 41, "height": 289, "data": {"values": [{}]}, "mark": {"type": "point", "opacity": 0}},
{"width": 121, "height": 289, "data": {"name": "p2019"},
 "resolve": {"axis": {"x": "independent", "y": "independent"}},
 "layer": [
  {"mark": {"type": "line", "color": "#000", "strokeWidth": 0.8},
   "encoding": {
    "x": {"field": "HV", "type": "quantitative", "scale": {"domain": [0, 260], "nice": false, "zero": false}, "axis": {"orient": "bottom", "values": [0, 100, 200], "tickSize": -7, "labelPadding": 11, "title": "HV [V]", "titleAnchor": "end", "titleY": 27.5, "titleBaseline": "alphabetic"}},
    "y": {"field": "value", "type": "quantitative", "scale": {"type": "log", "domain": [1e-8, 1e-2], "nice": false}, "axis": {"orient": "left", "values": [1e-8, 1e-7, 1e-6, 1e-5, 1e-4, 1e-3, 1e-2], "labelExpr": "'10' + ['⁻⁸','⁻⁷','⁻⁶','⁻⁵','⁻⁴','⁻³','⁻²'][round(log(datum.value)/LN10) + 8]", "tickSize": -7, "labelPadding": 11, "title": "Noise occupancy", "titleAnchor": "end", "titlePadding": 3}},
    "detail": {"field": "series"}}},
  {"mark": {"type": "point", "filled": true, "size": 24, "strokeWidth": 1, "opacity": 1},
   "encoding": {
    "x": {"field": "HV", "type": "quantitative", "scale": {"domain": [0, 260], "nice": false, "zero": false}, "axis": {"orient": "bottom", "values": [0,20,40,60,80,100,120,140,160,180,200,220,240,260], "tickSize": -3.5, "labels": false, "domain": false, "title": null}},
    "y": {"field": "value", "type": "quantitative", "scale": {"type": "log", "domain": [1e-8, 1e-2], "nice": false}, "axis": {"orient": "left", "values": [2e-8,3e-8,4e-8,5e-8,6e-8,7e-8,8e-8,9e-8,2e-7,3e-7,4e-7,5e-7,6e-7,7e-7,8e-7,9e-7,2e-6,3e-6,4e-6,5e-6,6e-6,7e-6,8e-6,9e-6,2e-5,3e-5,4e-5,5e-5,6e-5,7e-5,8e-5,9e-5,2e-4,3e-4,4e-4,5e-4,6e-4,7e-4,8e-4,9e-4,2e-3,3e-3,4e-3,5e-3,6e-3,7e-3,8e-3,9e-3], "tickSize": -3.5, "labels": false, "domain": false, "title": null}},
    "fill": {"field": "series", "type": "nominal", "scale": {"domain": ["link-0 <111>", "link-1 <111>", "link-0 <100>", "link-1 <100>"], "range": ["#0000ff", "rgba(150,150,255,0.55)", "#ff0000", "rgba(255,150,150,0.55)"]}, "legend": {"orient": "none", "legendX": 17, "legendY": 234, "title": null}},
    "stroke": {"field": "series", "type": "nominal", "scale": {"domain": ["link-0 <111>", "link-1 <111>", "link-0 <100>", "link-1 <100>"], "range": ["#0000ff", "#5a5aff", "#ff0000", "#ff5a5a"]}, "legend": null}}},
  {"mark": {"type": "point", "opacity": 0},
   "encoding": {
    "x": {"field": "HV", "type": "quantitative", "scale": {"domain": [0, 260], "nice": false, "zero": false}, "axis": {"orient": "top", "values": [0, 100, 200], "tickSize": -7, "labels": false, "title": null}},
    "y": {"field": "value", "type": "quantitative", "scale": {"type": "log", "domain": [1e-8, 1e-2], "nice": false}, "axis": {"orient": "right", "values": [1e-8, 1e-7, 1e-6, 1e-5, 1e-4, 1e-3, 1e-2], "tickSize": -7, "labels": false, "title": null}}}},
  {"mark": {"type": "point", "opacity": 0},
   "encoding": {
    "x": {"field": "HV", "type": "quantitative", "scale": {"domain": [0, 260], "nice": false, "zero": false}, "axis": {"orient": "top", "values": [0,20,40,60,80,100,120,140,160,180,200,220,240,260], "tickSize": -3.5, "labels": false, "domain": false, "title": null}},
    "y": {"field": "value", "type": "quantitative", "scale": {"type": "log", "domain": [1e-8, 1e-2], "nice": false}, "axis": {"orient": "right", "values": [2e-8,3e-8,4e-8,5e-8,6e-8,7e-8,8e-8,9e-8,2e-7,3e-7,4e-7,5e-7,6e-7,7e-7,8e-7,9e-7,2e-6,3e-6,4e-6,5e-6,6e-6,7e-6,8e-6,9e-6,2e-5,3e-5,4e-5,5e-5,6e-5,7e-5,8e-5,9e-5,2e-4,3e-4,4e-4,5e-4,6e-4,7e-4,8e-4,9e-4,2e-3,3e-3,4e-3,5e-3,6e-3,7e-3,8e-3,9e-3], "tickSize": -3.5, "labels": false, "domain": false, "title": null}}}},
  {"data": {"values": [{}]}, "mark": {"type": "text", "text": "Barrel 3", "align": "right", "baseline": "alphabetic", "fontSize": 12, "fontWeight": "bold", "color": "#000"},
   "encoding": {"x": {"datum": 247, "type": "quantitative", "scale": {"domain": [0, 260], "nice": false, "zero": false}, "axis": null}, "y": {"datum": 0.00385, "type": "quantitative", "scale": {"type": "log", "domain": [1e-8, 1e-2], "nice": false}, "axis": null}}},
  {"data": {"values": [{}]}, "mark": {"type": "text", "text": "2019-05-16", "align": "center", "baseline": "alphabetic", "fontSize": 14, "fontWeight": "bold", "color": "#1f7fff"},
   "encoding": {"x": {"datum": 130, "type": "quantitative", "scale": {"domain": [0, 260], "nice": false, "zero": false}, "axis": null}, "y": {"datum": 0.00168, "type": "quantitative", "scale": {"type": "log", "domain": [1e-8, 1e-2], "nice": false}, "axis": null}}}
 ]}
],
"config": {
 "font": "Liberation Sans",
 "view": {"stroke": null},
 "text": {"font": "Liberation Sans"},
 "axis": {"grid": false, "domainColor": "#222", "tickColor": "#222", "domainWidth": 1, "tickWidth": 1, "labelFont": "Liberation Sans, DejaVu Sans", "labelFontSize": 12, "labelColor": "#000", "titleFont": "Liberation Sans", "titleFontSize": 12, "titleFontWeight": "normal", "titleColor": "#000", "labelFlush": false, "labelOverlap": false},
 "legend": {"padding": 0, "offset": 0, "labelFont": "Liberation Sans", "labelFontSize": 12, "labelColor": "#000", "symbolType": "M-1.5,0H1.5M0.5,0A0.5,0.5,0,1,1,-0.5,0A0.5,0.5,0,1,1,0.5,0Z", "symbolSize": 100, "symbolStrokeColor": "#000", "symbolStrokeWidth": 0.8, "labelOffset": 4.5, "rowPadding": 0.5}
}
}
